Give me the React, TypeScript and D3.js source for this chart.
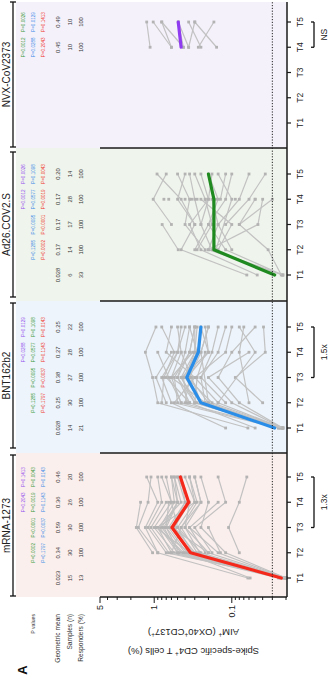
import React, { useEffect } from "react";
import * as d3 from "d3";

// Time points and vaccines
const TIMES = ["T1", "T2", "T3", "T4", "T5"];
const VACCINES = ["mRNA-1273", "BNT162b2", "Ad26.COV2.S", "NVX-CoV2373"];

// Geometric means (%), sample counts and responder rates per time point
const gmMrna = [0.023, 0.34, 0.59, 0.36, 0.46];
const gmBnt = [0.028, 0.25, 0.38, 0.27, 0.25];
const gmAd26 = [0.028, 0.17, 0.17, 0.17, 0.2];
const gmNvx = [null, null, null, 0.45, 0.49];

const nMrna = [15, 30, 30, 26, 20];
const nBnt = [14, 30, 27, 28, 22];
const nAd26 = [6, 14, 17, 28, 14];
const nNvx = [null, null, null, 10, 10];

const respMrna = [13, 100, 100, 100, 100];
const respBnt = [21, 100, 100, 100, 100];
const respAd26 = [33, 100, 100, 100, 100];
const respNvx = [null, null, null, 100, 100];

// P values versus the other vaccines (rows keyed by comparator)
const pMrna = {
  NVX: [null, null, null, "P=0.2043", "P=0.1413"],
  Ad26: [null, "P=0.0002", "P<0.0001", "P=0.0019", "P=0.0043"],
  BNT: [null, "P=0.1797", "P=0.0037", "P=0.1143", "P=0.0143"],
};
const pBnt = {
  NVX: [null, null, null, "P=0.0288", "P=0.0129"],
  Ad26: [null, "P=0.1285", "P=0.0095", "P=0.0577", "P=0.1098"],
  Mrna: [null, "P=0.1797", "P=0.0037", "P=0.1143", "P=0.0143"],
};
const pAd26 = {
  NVX: [null, null, null, "P=0.0012", "P=0.0026"],
  BNT: [null, "P=0.1285", "P=0.0095", "P=0.0577", "P=0.1098"],
  Mrna: [null, "P=0.0002", "P<0.0001", "P=0.0019", "P=0.0043"],
};
const pNvx = {
  Ad26: [null, null, null, "P=0.0012", "P=0.0026"],
  BNT: [null, null, null, "P=0.0288", "P=0.0129"],
  Mrna: [null, null, null, "P=0.2043", "P=0.1413"],
};

// Individual donors, values at T1..T5 (null = not sampled)
const donorsMrna = [
  [0.02, 0.45, 0.8, 0.5, 0.6],
  [0.021, 0.3, 0.55, 0.35, 0.5],
  [0.062, 0.9, 1.6, 1.2, 1.1],
  [0.02, 0.2, 0.4, 0.25, 0.3],
  [0.022, 0.55, 1.0, 0.6, 0.7],
  [0.02, 0.15, 0.35, null, null],
  [0.025, 0.6, 0.9, 0.45, 0.55],
  [0.02, 0.25, 0.5, 0.3, 0.4],
  [0.058, 0.4, 0.7, 0.5, null],
  [0.02, 0.12, 0.25, 0.2, 0.25],
  [0.023, 0.35, 0.6, 0.4, 0.45],
  [0.02, 0.7, 1.2, 0.8, 0.9],
  [0.021, 0.28, 0.45, 0.28, 0.35],
  [0.02, 0.5, 0.85, 0.55, 0.6],
  [0.024, 0.38, 0.65, 0.4, 0.5],
  [null, 0.22, 0.35, 0.15, null],
  [null, 0.9, 1.3, 0.9, 1.25],
  [null, 0.18, 0.3, 0.12, 0.15],
  [null, 0.5, 0.75, 0.5, 0.55],
  [null, 0.32, 0.5, 0.6, 0.8],
  [null, 1.05, 1.7, 1.5, null],
  [null, 0.08, 0.11, 0.08, 0.064],
  [null, 0.42, 0.9, 0.3, 0.35],
  [null, 0.26, 0.4, 0.35, null],
  [null, 0.65, 1.1, 0.7, null],
  [null, 0.14, 0.2, null, null],
  [null, 0.6, 0.45, 0.25, 0.3],
  [null, 0.35, 0.95, null, null],
  [null, 0.48, 0.7, 0.65, null],
  [null, 0.2, 0.6, null, null],
];
const donorsBnt = [
  [0.022, 0.3, 0.45, 0.3, 0.3],
  [0.12, 0.6, 0.8, 0.5, 0.45],
  [0.025, 0.2, 0.35, 0.25, 0.2],
  [0.062, 0.9, 1.05, 1.3, 0.95],
  [0.022, 0.15, 0.3, 0.12, 0.1],
  [0.05, 0.35, 0.5, 0.4, 0.35],
  [0.023, 0.25, 0.4, 0.3, 0.28],
  [0.022, 0.1, 0.2, 0.06, null],
  [0.024, 0.45, 0.6, 0.45, 0.5],
  [0.022, 0.18, 0.38, 0.2, 0.22],
  [0.025, 0.55, 0.3, 0.7, 0.6],
  [0.022, 0.08, 0.15, 0.1, 0.05],
  [0.023, 0.3, 0.5, 0.35, 0.3],
  [0.022, 0.22, 0.25, 0.18, 0.15],
  [null, 0.04, 0.09, 0.037, 0.039],
  [null, 0.7, 0.95, 0.6, null],
  [null, 0.28, 0.45, 0.2, 0.25],
  [null, 0.35, 0.7, 0.5, 0.4],
  [null, 0.12, 0.25, 0.15, 0.12],
  [null, 0.5, 0.55, 0.35, 0.3],
  [null, 0.2, null, 0.25, 0.2],
  [null, 0.45, 0.65, 0.9, null],
  [null, 0.06, null, 0.08, 0.07],
  [null, 0.38, 0.42, 0.28, 0.35],
  [null, 0.25, 0.33, 0.45, null],
  [null, 0.15, null, 0.05, 0.08],
  [null, 0.8, 0.75, 0.55, 0.8],
  [null, 0.3, 0.28, 0.22, null],
  [null, 0.22, 0.6, 0.32, null],
  [null, 0.4, 0.35, null, null],
];
const donorsAd26 = [
  [0.022, 0.2, 0.15, 0.18, null],
  [0.064, 0.45, 0.3, 0.5, 0.4],
  [0.022, 0.12, 0.2, 0.15, 0.2],
  [0.047, 0.25, 0.35, 0.2, 0.25],
  [0.023, 0.034, 0.08, 0.05, null],
  [0.022, 0.18, 0.25, 0.3, 0.35],
  [null, 0.3, 0.2, 0.12, 0.1],
  [null, 0.15, 0.1, 0.25, null],
  [null, 0.22, 0.4, 0.35, 0.5],
  [null, 0.49, 0.79, null, null],
  [null, 0.1, 0.15, 0.08, 0.06],
  [null, 0.28, 0.18, 0.22, 0.3],
  [null, 0.16, null, 0.1, 0.15],
  [null, 0.2, 0.046, 0.04, null],
  [null, null, 0.3, 0.45, 0.92],
  [null, null, 0.12, 0.06, 0.037],
  [null, null, 0.6, 1.03, 0.7],
  [null, null, 0.25, 0.2, 0.18],
  [null, null, 0.08, 0.03, null],
  [null, null, null, 0.65, null],
  [null, null, null, 0.14, 0.12],
  [null, null, null, 0.28, null],
  [null, null, null, 0.09, null],
  [null, null, null, 0.4, null],
  [null, null, null, 0.16, null],
  [null, null, null, 0.75, null],
  [null, null, null, 0.22, null],
  [null, null, null, 0.05, null],
  [null, null, null, 0.33, null],
];
const donorsNvx = [
  [null, null, null, 1.13, 1.25],
  [null, null, null, 0.6, 1.03],
  [null, null, null, 0.42, 0.8],
  [null, null, null, 0.36, 0.49],
  [null, null, null, 0.27, 0.17],
  [null, null, null, 0.157, 0.3],
  [null, null, null, 0.25, 0.36],
  [null, null, null, 0.42, 0.49],
  [null, null, null, 0.6, 0.8],
  [null, null, null, 0.36, 0.3],
];

// Y axis tick labels and limit of detection
const yMajorTicks = [5, 1, 0.1];
const LOD = 0.03;

// Fold-change brackets: [panel index, from time, to time, label]
const brackets = [
  [0, "T3", "T5", "1.3x"],
  [1, "T3", "T5", "1.5x"],
  [3, "T4", "T5", "NS"],
];

const COLORS = {
  Mrna: "#f5281c",
  BNT: "#2a8ee8",
  Ad26: "#1f8a1f",
  NVX: "#8f3cf0",
};
const PCOLORS = {
  Mrna: "#f0352a",
  BNT: "#3d8de6",
  Ad26: "#3a9a3a",
  NVX: "#9450ee",
};

const panels = [
  { name: VACCINES[0], key: "Mrna", gm: gmMrna, n: nMrna, resp: respMrna, p: pMrna, donors: donorsMrna,
    bg: "#fbefed", left: 97, right: 241, t1: 116, br: [98, 239] },
  { name: VACCINES[1], key: "BNT", gm: gmBnt, n: nBnt, resp: respBnt, p: pBnt, donors: donorsBnt,
    bg: "#edf4fb", left: 241, right: 393, t1: 266, br: [246, 391] },
  { name: VACCINES[2], key: "Ad26", gm: gmAd26, n: nAd26, resp: respAd26, p: pAd26, donors: donorsAd26,
    bg: "#eff4ec", left: 393, right: 546, t1: 419, br: [397, 542] },
  { name: VACCINES[3], key: "NVX", gm: gmNvx, n: nNvx, resp: respNvx, p: pNvx, donors: donorsNvx,
    bg: "#f5f1fb", left: 546, right: 692, t1: 571, br: [547, 692] },
];

const W = 694; // width of the unrotated figure
const FONT = "Liberation Sans, Arial, Helvetica, sans-serif";

const y = d3.scaleLog().domain([0.02, 5]).range([286, 100]);
const fmt = d3.format(".2r");
const AXIS_V = 287;

function Panel({ p }: { p: any }) {
  const x = d3.scalePoint<string>().domain(TIMES).range([p.t1, p.t1 + 101]);
  const line = d3
    .line<[string, number]>()
    .x((d) => x(d[0]) as number)
    .y((d) => y(d[1]));
  const rowV = [23, 33, 43];
  const pKeys = Object.keys(p.p);
  return (
    <g>
      <rect x={p.left} y={16} width={p.right - p.left} height={AXIS_V - 16} fill={p.bg} />
      {/* group bracket and title */}
      <line x1={p.br[0]} x2={p.br[1]} y1={13} y2={13} stroke="#111" strokeWidth={1.3} />
      <line x1={p.br[0]} x2={p.br[0]} y1={10} y2={16} stroke="#111" strokeWidth={1.3} />
      <line x1={p.br[1]} x2={p.br[1]} y1={10} y2={16} stroke="#111" strokeWidth={1.3} />
      <text x={(p.br[0] + p.br[1]) / 2} y={9.5} fontSize={10} textAnchor="middle" fill="#222">
        {p.name}
      </text>
      {/* table */}
      {TIMES.map((t, i) => (
        <g key={t} fontSize={5.8} textAnchor="middle" fill="#333">
          {pKeys.map((k, r) =>
            p.p[k][i] ? (
              <text key={k} x={x(t)} y={rowV[r]} dy="0.35em" fontSize={4.6} fill={PCOLORS[k]}>
                {p.p[k][i]}
              </text>
            ) : null
          )}
          {p.gm[i] != null && (
            <>
              <text x={x(t)} y={58} dy="0.35em">{fmt(p.gm[i])}</text>
              <text x={x(t)} y={70} dy="0.35em">{p.n[i]}</text>
              <text x={x(t)} y={81} dy="0.35em">{p.resp[i]}</text>
            </>
          )}
        </g>
      ))}
      {/* donors */}
      {p.donors.map((d: (number | null)[], j: number) => {
        const pts = d
          .map((v, i) => [TIMES[i], v] as [string, number | null])
          .filter((q) => q[1] != null) as [string, number][];
        return (
          <g key={j}>
            {pts.length > 1 && (
              <path d={line(pts) as string} fill="none" stroke="#c2c2c2" strokeWidth={1.2} />
            )}
            {pts.map((q, k) => (
              <rect key={k} x={(x(q[0]) as number) - 1.4} y={y(q[1]) - 1.4} width={2.8} height={2.8} fill="#b3b3b3" />
            ))}
          </g>
        );
      })}
      {/* geometric mean */}
      {(() => {
        const pts = p.gm
          .map((v: number | null, i: number) => [TIMES[i], v])
          .filter((q: any) => q[1] != null) as [string, number][];
        return (
          <path d={line(pts) as string} fill="none" stroke={COLORS[p.key]} strokeWidth={3.2}
            strokeLinejoin="round" strokeLinecap="round" />
        );
      })()}
      {/* panel divider */}
      <line x1={p.left} x2={p.left} y1={100} y2={AXIS_V} stroke="#1a1a1a" strokeWidth={1.5} />
      {/* time ticks */}
      {TIMES.map((t) => (
        <g key={t}>
          <line x1={x(t)} x2={x(t)} y1={AXIS_V} y2={AXIS_V + 4} stroke="#1a1a1a" strokeWidth={1.2} />
          <text x={x(t)} y={300} dy="0.35em" fontSize={8.5} textAnchor="middle" fill="#222">
            {t}
          </text>
        </g>
      ))}
    </g>
  );
}

export default function App() {
  useEffect(() => {
    document.body.style.margin = "0";
  }, []);
  const ticks = y.ticks();
  return (
    <svg width={332} height={694} style={{ position: "absolute", left: 0, top: 0, display: "block" }}
      fontFamily={FONT}>
      <rect width={332} height={694} fill="#ffffff" />
      <g transform={`translate(0,${W}) rotate(-90)`}>
        {panels.map((p) => (
          <Panel key={p.name} p={p} />
        ))}
        {/* limit of detection */}
        <line x1={97} x2={692} y1={y(LOD)} y2={y(LOD)} stroke="#222" strokeWidth={1} strokeDasharray="1.2,1.6" />
        {/* time axis */}
        <line x1={97} x2={692} y1={AXIS_V} y2={AXIS_V} stroke="#1a1a1a" strokeWidth={1.5} />
        {/* y axis */}
        {ticks.map((t) => {
          const major = yMajorTicks.includes(t);
          return (
            <line key={t} x1={97} x2={major ? 91 : 94} y1={y(t)} y2={y(t)} stroke="#1a1a1a" strokeWidth={1} />
          );
        })}
        {yMajorTicks.map((t) => (
          <text key={t} x={89} y={y(t)} dy="0.35em" fontSize={9} textAnchor="end" fill="#222">
            {String(t)}
          </text>
        ))}
        <g transform={`translate(0,${(100 + AXIS_V) / 2}) rotate(-90)`} fontSize={9.5} textAnchor="middle" fill="#222">
          <text x={0} y={46}>
            Spike-specific CD4<tspan baselineShift="super" fontSize={6.5}>+</tspan> T cells (%)
          </text>
          <text x={0} y={65}>
            AIM<tspan baselineShift="super" fontSize={6.5}>+</tspan> (OX40<tspan baselineShift="super" fontSize={6.5}>+</tspan>CD137<tspan baselineShift="super" fontSize={6.5}>+</tspan>)
          </text>
        </g>
        {/* row labels */}
        <g textAnchor="end" fill="#333" fontSize={6.6}>
          <text x={80} y={33} dy="0.35em" fontSize={5.2}>P values</text>
          <text x={80} y={58} dy="0.35em">Geometric mean</text>
          <text x={80} y={70} dy="0.35em">Samples (n)</text>
          <text x={80} y={81} dy="0.35em">Responders (%)</text>
        </g>
        <text x={24} y={22} dy="0.35em" fontSize={13} fontWeight="bold" textAnchor="middle" fill="#111">A</text>
        {/* fold-change brackets */}
        {brackets.map(([pi, a, b, label]) => {
          const p = panels[pi as number];
          const x = d3.scalePoint<string>().domain(TIMES).range([p.t1, p.t1 + 101]);
          const x1 = x(a as string) as number;
          const x2 = x(b as string) as number;
          return (
            <g key={label as string} stroke="#111" strokeWidth={1.3}>
              <line x1={x1} x2={x2} y1={314} y2={314} />
              <line x1={x1} x2={x1} y1={311} y2={314} />
              <line x1={x2} x2={x2} y1={311} y2={314} />
              <text x={(x1 + x2) / 2} y={324} dy="0.35em" fontSize={8.5} textAnchor="middle" stroke="none" fill="#222">
                {label}
              </text>
            </g>
          );
        })}
      </g>
    </svg>
  );
}
